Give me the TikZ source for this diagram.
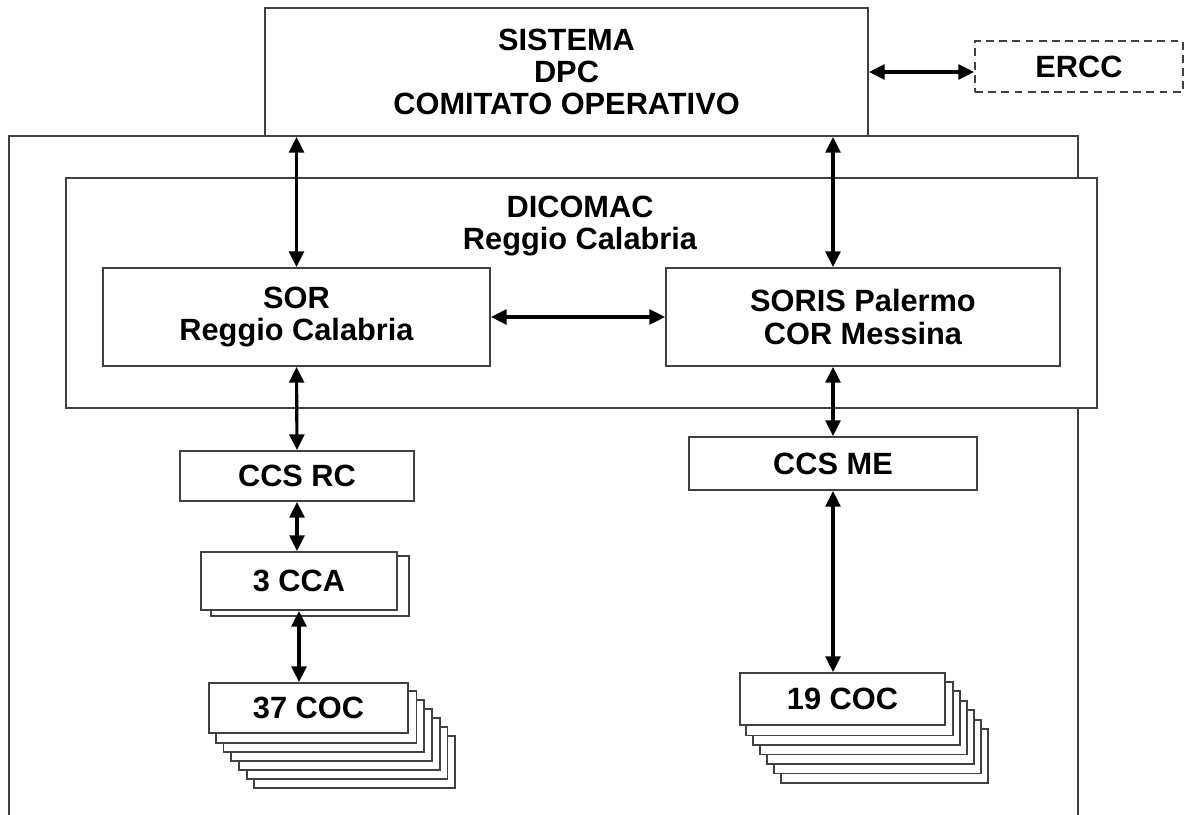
\documentclass[tikz,border=0pt]{standalone}
\usepackage{fontspec}
\setmainfont{Liberation Sans}
\usetikzlibrary{arrows.meta, calc, backgrounds}

\begin{document}
\begin{tikzpicture}[>={Triangle[length=9pt,width=8.5pt]},
  box/.style={draw=black!75, line width=1pt, fill=white, align=center, font=\fontsize{17.5}{18.4}\selectfont\bfseries},
  link/.style={<->, line width=1.8pt}]
\useasboundingbox (0,0) rectangle (23.74,16.28);

% outer frame
\draw[black!75, line width=1pt] (0.18,-0.1) -- (0.18,13.56) -- (21.56,13.56) -- (21.56,-0.1);

\node (sys) [box, minimum width=12.06cm, minimum height=2.56cm] at (11.33,14.84) {SISTEMA\\DPC\\COMITATO OPERATIVO};
\node (ercc) [box, dash pattern=on 4.5pt off 3pt, minimum width=4.16cm, minimum height=1.02cm] at (21.58,14.95) {ERCC};

\node (dicomac) [box, minimum width=20.62cm, minimum height=4.6cm] at (11.63,10.42) {};
\node (dicomactxt) [box, draw=none, fill=none] at (11.6,11.76) {DICOMAC\\Reggio Calabria};

\node (sor) [box, minimum width=7.74cm, minimum height=1.96cm] at (5.93,9.94) {SOR\\Reggio Calabria};
\node (soris) [box, minimum width=7.88cm, minimum height=1.96cm] at (17.26,9.94) {SORIS Palermo\\COR Messina};

\node (ccsrc) [box, minimum width=4.68cm, minimum height=1cm] at (5.94,6.76) {CCS RC};
\node (cca) [box, minimum width=3.92cm, minimum height=1.16cm] at (5.98,4.66) {3 CCA};
\node (coc37) [box, minimum width=3.98cm, minimum height=1cm] at (6.17,2.12) {37 COC};

\node (ccsme) [box, minimum width=5.76cm, minimum height=1.06cm] at (16.66,7.01) {CCS ME};
\node (coc19) [box, minimum width=4.1cm, minimum height=1.04cm] at (16.85,2.30) {19 COC};

% stacked copies behind
\begin{scope}[on background layer]
\draw[box] ($(cca.south west)+(0.22,-0.1)$) rectangle ($(cca.north east)+(0.22,-0.1)$);
\foreach \k in {6,...,1} {
  \draw[box] ($(coc37.south west)+(\k*0.154,-\k*0.18)$) rectangle ($(coc37.north east)+(\k*0.154,-\k*0.18)$);
  \draw[box] ($(coc19.south west)+(\k*0.14,-\k*0.19)$) rectangle ($(coc19.north east)+(\k*0.14,-\k*0.19)$);
}
\end{scope}

\draw [link] (sys.east) -- (sys.east -| ercc.west);
\draw [link] (sys.south -| sor.north) -- (sor.north);
\draw [link] (sys.south -| ccsme.north) -- (soris.north -| ccsme.north);
\draw [link] (sor.east) -- (soris.west);
\draw [link] (sor.south) -- (ccsrc.north);
\draw [link] (ccsrc.south) -- (ccsrc.south |- cca.north);
\draw [link] (cca.south) -- (cca.south |- coc37.north);
\draw [link] (soris.south -| ccsme.north) -- (ccsme.north);
\draw [link] (ccsme.south) -- (ccsme.south |- coc19.north);

\end{tikzpicture}
\end{document}
